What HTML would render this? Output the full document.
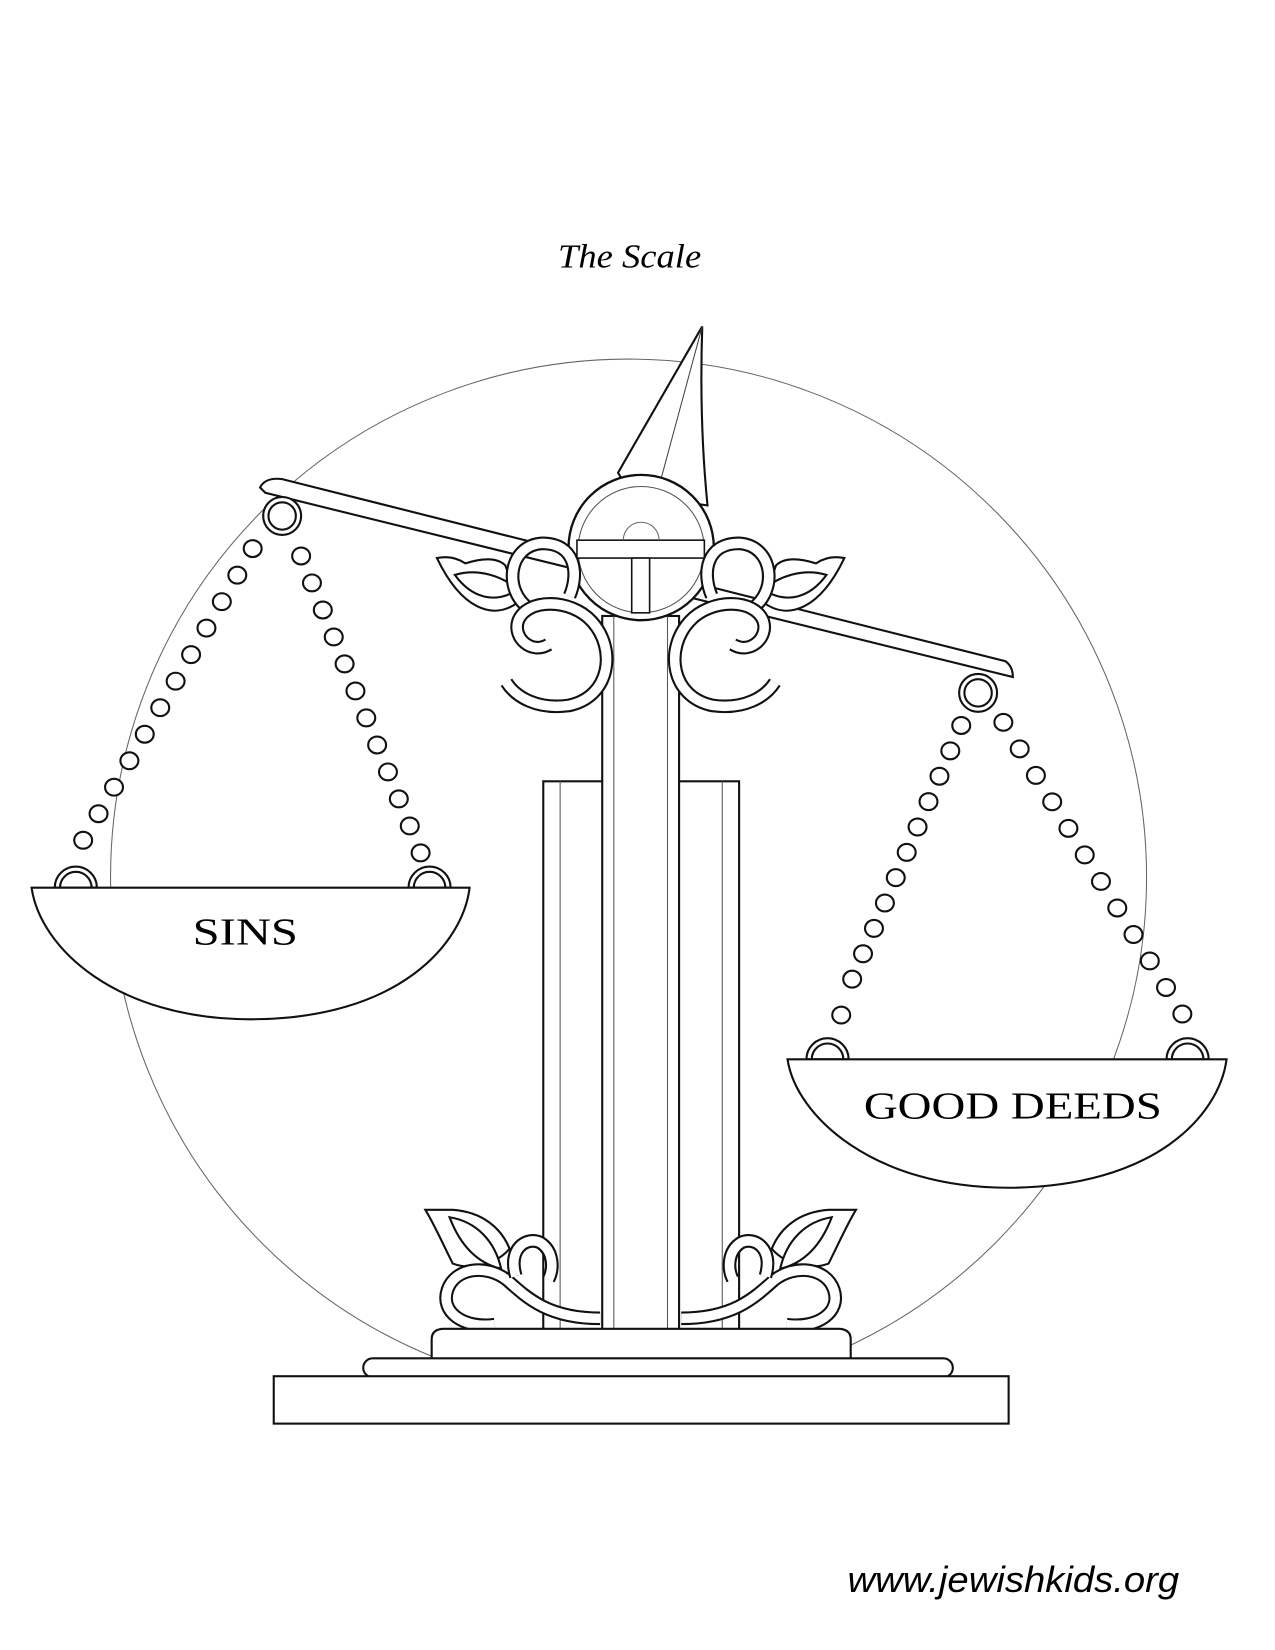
<!DOCTYPE html>
<html><head><meta charset="utf-8"><style>
html,body{margin:0;padding:0;background:#fff;}
svg{display:block;}
</style></head><body>
<svg width="1275" height="1650" viewBox="0 0 1211 1567" preserveAspectRatio="none" xmlns="http://www.w3.org/2000/svg">
<defs>
<g id="topOrn">
  <path d="M415,530 Q430,527 442,535 C458,530 472,529 480,537 L492,572 C468,590 438,578 415,530 Z" fill="#fff" stroke="#111" stroke-width="2"/>
  <path d="M432,546 C455,539 478,548 492,560 C470,574 448,568 432,546 Z" fill="#fff" stroke="#111" stroke-width="2"/>
  <path d="M503,578 C478,562 482,518 515,516 C547,516 550,545 541,566" fill="none" stroke="#111" stroke-width="13"/>
  <path d="M503,578 C478,562 482,518 515,516 C547,516 550,545 541,566" fill="none" stroke="#fff" stroke-width="9"/>
  <path d="M521,612 C505,622 487,606 492,590 C500,568 542,568 562,590 C586,616 580,662 540,670 C510,674 490,662 481,648" fill="none" stroke="#111" stroke-width="13"/>
  <path d="M521,612 C505,622 487,606 492,590 C500,568 542,568 562,590 C586,616 580,662 540,670 C510,674 490,662 481,648" fill="none" stroke="#fff" stroke-width="9"/>
</g>
<g id="botOrn">
  <path d="M404,1149 L430,1149 C458,1151 476,1166 484,1186 C470,1202 446,1206 430,1200 C420,1180 412,1162 404,1149 Z" fill="#fff" stroke="#111" stroke-width="2"/>
  <path d="M427,1156 C452,1160 470,1178 476,1205 C455,1200 438,1185 427,1156 Z" fill="#fff" stroke="#111" stroke-width="2"/>
  <path d="M470,1258 C440,1262 418,1246 425,1225 C432,1204 462,1200 482,1216 C502,1234 522,1252 570,1252" fill="none" stroke="#111" stroke-width="13"/>
  <path d="M470,1258 C440,1262 418,1246 425,1225 C432,1204 462,1200 482,1216 C502,1234 522,1252 570,1252" fill="none" stroke="#fff" stroke-width="9"/>
  <path d="M490,1212 C482,1186 500,1174 513,1180 C526,1188 526,1205 521,1215" fill="none" stroke="#111" stroke-width="13"/>
  <path d="M490,1212 C482,1186 500,1174 513,1180 C526,1188 526,1205 521,1215" fill="none" stroke="#fff" stroke-width="9"/>
</g>
<g id="dot"><ellipse rx="8.5" ry="8" fill="#fff" stroke="#111" stroke-width="2"/></g>
</defs>

<text x="598" y="254" text-anchor="middle" font-family="Liberation Serif, serif" font-style="italic" font-size="32" fill="#000" textLength="136" lengthAdjust="spacingAndGlyphs">The Scale</text>

<circle cx="597" cy="833" r="492" fill="none" stroke="#666" stroke-width="1"/>

<path d="M247,463 Q252,453 268,455 L955,628 Q962,633 962,643 L252,468 Z" fill="#fff" stroke="#111" stroke-width="2"/>

<path d="M587,449 L667,310 Q664,400 672,480 L600,470 Z" fill="#fff" stroke="#111" stroke-width="2"/>
<line x1="667" y1="310" x2="614" y2="506" stroke="#444" stroke-width="1"/>

<rect x="516" y="742" width="186" height="523" fill="#fff" stroke="#111" stroke-width="2"/>
<line x1="532" y1="742" x2="532" y2="1265" stroke="#555" stroke-width="1"/>
<line x1="686" y1="742" x2="686" y2="1265" stroke="#555" stroke-width="1"/>

<rect x="572" y="585" width="73" height="680" fill="#fff" stroke="#111" stroke-width="2"/>
<line x1="583" y1="585" x2="583" y2="1265" stroke="#555" stroke-width="1"/>
<line x1="634" y1="585" x2="634" y2="1265" stroke="#555" stroke-width="1"/>

<circle cx="609" cy="520" r="69" fill="#fff" stroke="#111" stroke-width="2.2"/>
<circle cx="609" cy="522" r="60" fill="none" stroke="#555" stroke-width="1"/>
<rect x="548" y="513" width="121" height="17" fill="#fff" stroke="#111" stroke-width="1.5"/>
<rect x="600" y="530" width="17" height="52" fill="#fff" stroke="#111" stroke-width="1.5"/>
<path d="M592,513 A17,17 0 0 1 626,513" fill="none" stroke="#666" stroke-width="1"/>

<use href="#topOrn"/>
<use href="#topOrn" transform="translate(1217,0) scale(-1,1)"/>

<use href="#botOrn"/>
<use href="#botOrn" transform="translate(1217,0) scale(-1,1)"/>

<path d="M410,1292 L410,1272 Q410,1262 422,1262 L796,1262 Q808,1262 808,1272 L808,1292" fill="#fff" stroke="#111" stroke-width="2"/>
<rect x="345" y="1290" width="560" height="18" rx="9" fill="#fff" stroke="#111" stroke-width="2"/>
<rect x="260" y="1307" width="698" height="45" fill="#fff" stroke="#111" stroke-width="2"/>

<g>
  <circle cx="268" cy="490" r="18" fill="#fff" stroke="#111" stroke-width="2"/>
  <circle cx="268" cy="490" r="13" fill="#fff" stroke="#111" stroke-width="2"/>
  <use href="#dot" x="240" y="521"/><use href="#dot" x="225.4" y="546.2"/><use href="#dot" x="210.7" y="571.4"/><use href="#dot" x="196.1" y="596.5"/><use href="#dot" x="181.5" y="621.7"/><use href="#dot" x="166.8" y="646.9"/><use href="#dot" x="152.2" y="672.1"/><use href="#dot" x="137.5" y="697.3"/><use href="#dot" x="122.9" y="722.5"/><use href="#dot" x="108.3" y="747.6"/><use href="#dot" x="93.6" y="772.8"/><use href="#dot" x="79" y="798"/>
  <use href="#dot" x="286" y="528"/><use href="#dot" x="296.3" y="553.6"/><use href="#dot" x="306.6" y="579.3"/><use href="#dot" x="317" y="604.9"/><use href="#dot" x="327.3" y="630.5"/><use href="#dot" x="337.6" y="656.2"/><use href="#dot" x="347.9" y="681.8"/><use href="#dot" x="358.2" y="707.5"/><use href="#dot" x="368.5" y="733.1"/><use href="#dot" x="378.8" y="758.7"/><use href="#dot" x="389.2" y="784.4"/><use href="#dot" x="399.5" y="810"/>
</g>
<path d="M52,843 A20,20 0 0 1 92,843 Z" fill="#fff" stroke="#111" stroke-width="2"/>
<path d="M57,843 A15,15 0 0 1 87,843" fill="none" stroke="#111" stroke-width="2"/>
<path d="M388,843 A20,20 0 0 1 428,843 Z" fill="#fff" stroke="#111" stroke-width="2"/>
<path d="M393,843 A15,15 0 0 1 423,843" fill="none" stroke="#111" stroke-width="2"/>
<path d="M30,843 L446,843 C440,895 380,968 238,968 C110,968 38,900 30,843 Z" fill="#fff" stroke="#111" stroke-width="2"/>
<text x="233" y="897" text-anchor="middle" font-family="Liberation Serif, serif" font-size="36" fill="#000" textLength="100" lengthAdjust="spacingAndGlyphs">SINS</text>

<g>
  <circle cx="929" cy="658" r="18" fill="#fff" stroke="#111" stroke-width="2"/>
  <circle cx="929" cy="658" r="13" fill="#fff" stroke="#111" stroke-width="2"/>
  <use href="#dot" x="913" y="689"/><use href="#dot" x="902.6" y="713.1"/><use href="#dot" x="892.3" y="737.2"/><use href="#dot" x="881.9" y="761.3"/><use href="#dot" x="871.5" y="785.4"/><use href="#dot" x="861.2" y="809.5"/><use href="#dot" x="850.8" y="833.5"/><use href="#dot" x="840.5" y="857.6"/><use href="#dot" x="830.1" y="881.7"/><use href="#dot" x="819.7" y="905.8"/><use href="#dot" x="809.4" y="929.9"/><use href="#dot" x="799" y="964"/>
  <use href="#dot" x="953" y="686"/><use href="#dot" x="968.5" y="711.2"/><use href="#dot" x="983.9" y="736.4"/><use href="#dot" x="999.4" y="761.5"/><use href="#dot" x="1014.8" y="786.7"/><use href="#dot" x="1030.3" y="811.9"/><use href="#dot" x="1045.7" y="837.1"/><use href="#dot" x="1061.2" y="862.3"/><use href="#dot" x="1076.6" y="887.5"/><use href="#dot" x="1092.1" y="912.6"/><use href="#dot" x="1107.5" y="937.8"/><use href="#dot" x="1123" y="963"/>
</g>
<path d="M766,1006 A20,20 0 0 1 806,1006 Z" fill="#fff" stroke="#111" stroke-width="2"/>
<path d="M771,1006 A15,15 0 0 1 801,1006" fill="none" stroke="#111" stroke-width="2"/>
<path d="M1108,1006 A20,20 0 0 1 1148,1006 Z" fill="#fff" stroke="#111" stroke-width="2"/>
<path d="M1113,1006 A15,15 0 0 1 1143,1006" fill="none" stroke="#111" stroke-width="2"/>
<path d="M748,1006 L1165,1006 C1158,1060 1095,1128 957,1128 C830,1128 756,1060 748,1006 Z" fill="#fff" stroke="#111" stroke-width="2"/>
<text x="962" y="1062" text-anchor="middle" font-family="Liberation Serif, serif" font-size="36" fill="#000" textLength="283" lengthAdjust="spacingAndGlyphs">GOOD DEEDS</text>

<text x="805" y="1512" font-family="Liberation Sans, sans-serif" font-style="italic" font-size="34" fill="#000" textLength="315" lengthAdjust="spacingAndGlyphs">www.jewishkids.org</text>
</svg>
</body></html>
